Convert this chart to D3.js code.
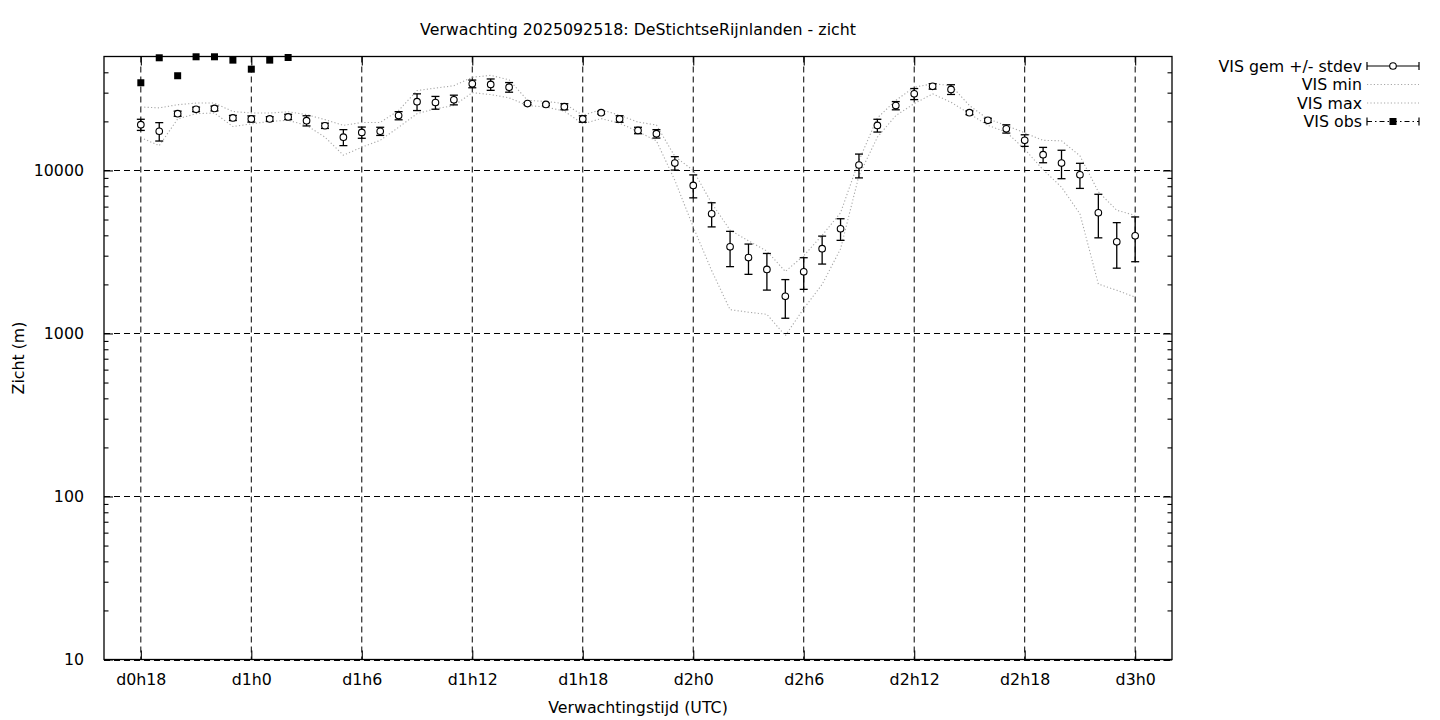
<!DOCTYPE html>
<html><head><meta charset="utf-8">
<script src="https://cdn.jsdelivr.net/npm/d3@7/dist/d3.min.js"></script>
<style>
body{margin:0;background:#fff}
svg{display:block}
text{font-family:"DejaVu Sans",sans-serif;font-size:15.8px;fill:#000}
</style>
</head><body>
<svg id="chart" width="1440" height="720"></svg>
<script>
// ---- data (hours since d0h0) ----
const hours = [18,19,20,21,22,23,24,25,26,27,28,29,30,31,32,33,34,35,36,37,38,39,40,41,42,43,44,45,46,47,48,49,50,51,52,53,54,55,56,57,58,59,60,61,62,63,64,65,66,67,68,69,70,71,72];
const visMean = [19100,17400,22300,23700,24000,21000,20700,20700,21300,20200,18800,16000,17100,17400,21700,26400,26100,27100,34000,33700,32400,25700,25400,24600,20700,22600,20700,17600,16800,11100,8090,5420,3400,2920,2470,1690,2390,3310,4390,10800,18900,25000,29500,32800,31400,22600,20300,18000,15300,12500,11100,9410,5500,3650,3970];
const visStdev = [1500,2250,800,750,800,750,900,650,800,1450,700,1800,1350,1000,1250,3100,2350,1850,1850,2700,2200,400,400,1050,950,400,950,800,1000,1050,1300,915,830,615,625,450,525,645,665,1800,1700,1450,2300,1250,2150,600,600,1050,1250,1350,2200,1650,1640,1135,1215];
const visMin = [15900,14200,20700,22300,22500,18600,19300,20000,20300,18900,16000,12400,13900,15300,18400,22300,23900,25000,30000,29200,27900,25000,24500,23100,19300,20800,19500,17300,15200,8700,4500,2430,1400,1350,1310,970,1420,2000,3300,9300,16000,21700,25700,29500,26200,22300,18900,17200,13500,10100,7900,5420,2010,1840,1670];
const visMax = [24500,24200,25300,25900,25900,23000,22500,22500,22900,22000,20500,18900,19700,19700,23300,30900,32000,33100,37300,38300,36000,26900,26500,25700,21800,23600,21800,19800,19000,12200,10000,6300,4300,3700,3200,2400,3000,4000,5500,11500,21000,26900,32400,34000,33200,25000,20700,18900,17000,15300,15200,12300,7400,5700,5300];
const obsHours = [18,19,20,21,22,23,24,25,26];
const obsValues = [34500,49100,38100,49800,49800,47500,41800,47500,49300];

const xTickHours = [18,24,30,36,42,48,54,60,66,72];
const xTickLabels = ["d0h18","d1h0","d1h6","d1h12","d1h18","d2h0","d2h6","d2h12","d2h18","d3h0"];
const yTickValues = [10,100,1000,10000];
const yMinorValues = [20,30,40,50,60,70,80,90,200,300,400,500,600,700,800,900,2000,3000,4000,5000,6000,7000,8000,9000,20000,30000,40000];
const legendLabels = ["VIS gem +/- stdev","VIS min","VIS max","VIS obs"];
const titleText = "Verwachting 2025092518: DeStichtseRijnlanden - zicht";

// ---- layout ----
const L = 104, R = 1172, T = 56.5, B = 659.5;
const FS = 15.8;
const svg = d3.select("#chart");
const x = d3.scaleLinear().domain([16, 74]).range([L, R]);
const y = d3.scaleLog().domain([10, 50000]).range([B, T]);

const dash = "6,4";
const g = svg.append("g");

// grid
g.selectAll("line.gx").data(xTickHours).join("line")
  .attr("x1", d => x(d)).attr("x2", d => x(d)).attr("y1", T).attr("y2", B)
  .attr("stroke", "#000").attr("stroke-width", 1).attr("stroke-dasharray", dash);
g.selectAll("line.gy").data(yTickValues).join("line")
  .attr("y1", d => Math.round(y(d))+0.5).attr("y2", d => Math.round(y(d))+0.5).attr("x1", L).attr("x2", R)
  .attr("stroke", "#000").attr("stroke-width", 1).attr("stroke-dasharray", dash);

// min / max dotted lines
const rows = hours.map((h, i) => ({h, mean: visMean[i], sd: visStdev[i], mn: visMin[i], mx: visMax[i]}));
const lineOf = key => d3.line().x(d => x(d.h)).y(d => y(d[key]));
["mn","mx"].forEach(k => {
  g.append("path").datum(rows).attr("d", lineOf(k))
    .attr("fill", "none").attr("stroke", "#a8a8a8").attr("stroke-width", 1.1)
    .attr("stroke-dasharray", "1.2,2.2");
});

// error bars
const cap = 4;
const eb = g.append("g").attr("stroke", "#000").attr("stroke-width", 1.3);
rows.forEach(d => {
  const x0 = x(d.h), yt = y(d.mean + d.sd), yb = y(d.mean - d.sd);
  eb.append("line").attr("x1", x0).attr("x2", x0).attr("y1", yt).attr("y2", yb);
  eb.append("line").attr("x1", x0-cap).attr("x2", x0+cap).attr("y1", yt).attr("y2", yt);
  eb.append("line").attr("x1", x0-cap).attr("x2", x0+cap).attr("y1", yb).attr("y2", yb);
});
g.selectAll("circle.m").data(rows).join("circle")
  .attr("cx", d => x(d.h)).attr("cy", d => y(d.mean)).attr("r", 3.3)
  .attr("fill", "#fff").attr("stroke", "#000").attr("stroke-width", 1.1);

// obs squares
g.selectAll("rect.o").data(obsHours.map((h,i)=>({h, v: obsValues[i]}))).join("rect")
  .attr("x", d => x(d.h)-3.5).attr("y", d => y(d.v)-3.5).attr("width", 7).attr("height", 7)
  .attr("fill", "#000");

// frame
svg.append("rect").attr("x", L).attr("y", T).attr("width", R-L).attr("height", B-T)
  .attr("fill", "none").attr("stroke", "#000").attr("stroke-width", 1.3);

// axes (ticks inward, mirrored)
const ax = svg.append("g").attr("transform", `translate(0,${B})`)
  .call(d3.axisBottom(x).tickValues(xTickHours).tickFormat((d,i)=>xTickLabels[i]).tickSizeInner(-9).tickSizeOuter(0).tickPadding(14));
ax.select(".domain").remove();
ax.selectAll("text").attr("font-size", FS).attr("font-family", "DejaVu Sans");
const axT = svg.append("g").attr("transform", `translate(0,${T})`)
  .call(d3.axisTop(x).tickValues(xTickHours).tickFormat("").tickSizeInner(-9).tickSizeOuter(0));
axT.select(".domain").remove();

const ay = svg.append("g").attr("transform", `translate(${L},0)`)
  .call(d3.axisLeft(y).tickValues(yTickValues).tickFormat(d3.format("d")).tickSizeInner(-9).tickSizeOuter(0).tickPadding(20));
ay.select(".domain").remove();
ay.selectAll("text").attr("font-size", FS).attr("font-family", "DejaVu Sans");
const ayR = svg.append("g").attr("transform", `translate(${R},0)`)
  .call(d3.axisRight(y).tickValues(yTickValues).tickFormat("").tickSizeInner(-9).tickSizeOuter(0));
ayR.select(".domain").remove();
const ayMin = svg.append("g").attr("transform", `translate(${L},0)`)
  .call(d3.axisLeft(y).tickValues(yMinorValues).tickFormat("").tickSizeInner(-4.5).tickSizeOuter(0));
ayMin.select(".domain").remove();
const ayMinR = svg.append("g").attr("transform", `translate(${R},0)`)
  .call(d3.axisRight(y).tickValues(yMinorValues).tickFormat("").tickSizeInner(-4.5).tickSizeOuter(0));
ayMinR.select(".domain").remove();
svg.selectAll(".tick line").attr("stroke-width", 1.1);

// title & labels
svg.append("text").attr("x", (L+R)/2).attr("y", 29).attr("text-anchor", "middle")
  .attr("dominant-baseline", "central").text(titleText);
svg.append("text").attr("x", (L+R)/2).attr("y", 707).attr("text-anchor", "middle")
  .attr("dominant-baseline", "central").text("Verwachtingstijd (UTC)");
svg.append("text").attr("transform", `translate(18,${(T+B)/2}) rotate(-90)`).attr("text-anchor", "middle")
  .attr("dominant-baseline", "central").text("Zicht (m)");

// legend
const lg = svg.append("g");
const lx0 = 1367, lx1 = 1419, lxm = (lx0+lx1)/2, ltx = 1362;
const ly = [66, 84.5, 103, 121.5];
legendLabels.forEach((t, i) => {
  lg.append("text").attr("x", ltx).attr("y", ly[i]).attr("text-anchor", "end")
    .attr("dominant-baseline", "central").text(t);
});
// gem
lg.append("line").attr("x1", lx0).attr("x2", lx1).attr("y1", ly[0]).attr("y2", ly[0]).attr("stroke", "#000").attr("stroke-width", 1.2);
[lx0, lx1].forEach(xx => lg.append("line").attr("x1", xx).attr("x2", xx).attr("y1", ly[0]-4).attr("y2", ly[0]+4).attr("stroke", "#000").attr("stroke-width", 1.2));
lg.append("circle").attr("cx", lxm).attr("cy", ly[0]).attr("r", 3.3).attr("fill", "#fff").attr("stroke", "#000").attr("stroke-width", 1.1);
// min / max
[1,2].forEach(i => lg.append("line").attr("x1", lx0).attr("x2", lx1).attr("y1", ly[i]).attr("y2", ly[i])
  .attr("stroke", "#a8a8a8").attr("stroke-width", 1.1).attr("stroke-dasharray", "1.2,2.2"));
// obs
lg.append("line").attr("x1", lx0).attr("x2", lx1).attr("y1", ly[3]).attr("y2", ly[3]).attr("stroke", "#000").attr("stroke-width", 1.2).attr("stroke-dasharray", "5,3,1.5,3");
[lx0, lx1].forEach(xx => lg.append("line").attr("x1", xx).attr("x2", xx).attr("y1", ly[3]-4).attr("y2", ly[3]+4).attr("stroke", "#000").attr("stroke-width", 1.2));
lg.append("rect").attr("x", lxm-3.5).attr("y", ly[3]-3.5).attr("width", 7).attr("height", 7).attr("fill", "#000");
</script>
</body></html>
